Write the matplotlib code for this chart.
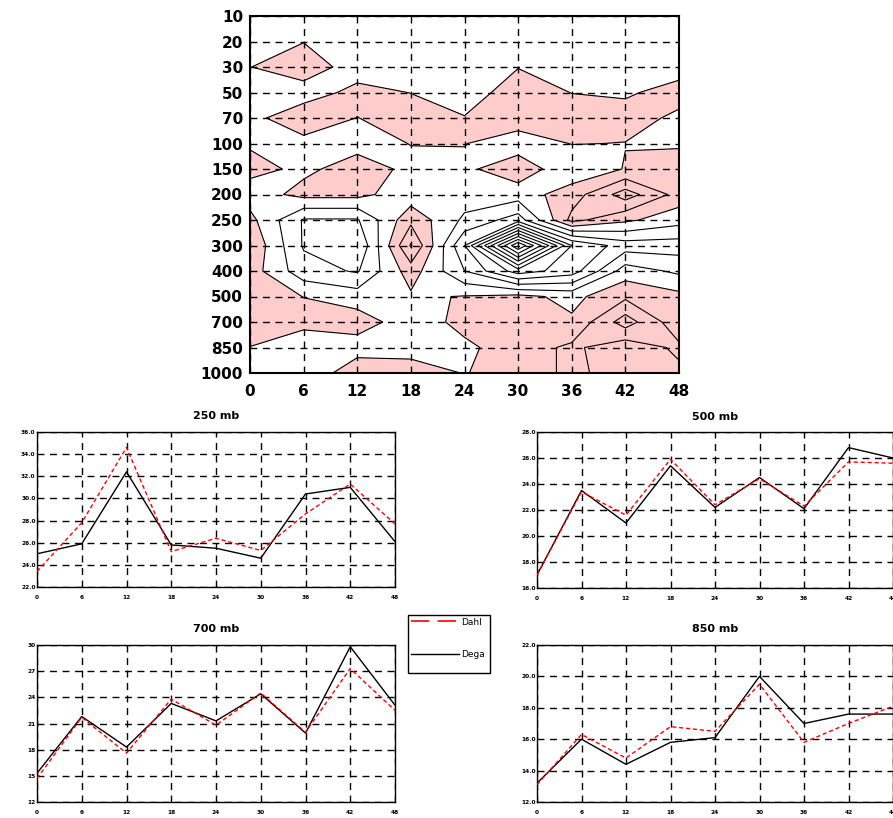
import numpy as np
import matplotlib
matplotlib.use("Agg")
import matplotlib.pyplot as plt
from matplotlib.lines import Line2D
from matplotlib.patches import Rectangle

# ---------------- data ----------------
hours = [0, 6, 12, 18, 24, 30, 36, 42, 48]
pressure_levels = ['10', '20', '30', '50', '70', '100', '150', '200', '250',
                   '300', '400', '500', '700', '850', '1000']

# difference field (rows = pressure levels top->bottom, cols = hours)
row_10 = [-0.5, -0.5, -0.5, -0.5, -0.5, -0.5, -0.5, -0.5, -0.5]
row_20 = [-0.5, -0.03, -0.5, -0.5, -0.5, -0.5, -0.5, -0.5, -0.5]
row_30 = [-0.02, 0.6, -0.5, -0.6, -0.6, -0.03, -0.6, -0.6, -0.3]
row_50 = [-0.5, -0.5, 0.3, -0.02, -0.5, 0.5, -0.02, -0.1, 0.28]
row_70 = [-0.3, 0.68, -0.02, 0.5, 0.05, 0.5, 0.5, 0.3, -0.15]
row_100 = [-0.1, -0.32, -0.3, 0.02, 0.03, -0.5, 0.03, -0.02, -0.1]
row_150 = [0.3, -0.2, 0.41, -0.2, -0.2, 0.6, -0.7, 0.05, 0.4]
row_200 = [-0.5, 0.3, 0.3, -0.6, -0.5, -0.5, 0.5, 2.5, 0.6]
row_250 = [0.3, -2.1, -2.1, 0.73, -1.2, -2.5, 1.3, 0.2, -0.6]
row_300 = [0.86, -2.1, -3.0, 2.1, -3.0, -11.0, -4.0, -2.5, -2.5]
row_400 = [0.5, -1.6, -2.1, 0.5, -2.0, -4.5, -3.5, -0.5, -1.2]
row_500 = [0.6, -0.02, -0.5, -0.15, 0.05, 0.3, -0.3, 0.8, 0.3]
row_700 = [0.5, 0.4, 0.5, -0.55, 0.3, 0.5, 0.16, 2.5, 0.3]
row_850 = [-0.02, -0.9, -0.5, -0.5, -0.2, 0.5, 1.2, 0.36, 1.2]
row_1000 = [-0.5, -0.9, 0.75, 0.6, -0.05, 0.5, 1.2, 0.6, 0.8]

dahl_250 = [23.4, 27.8, 34.6, 25.2, 26.4, 25.3, 28.6, 31.3, 27.7]
dega_250 = [25.0, 25.9, 32.4, 25.8, 25.5, 24.6, 30.4, 31.0, 26.1]
dahl_500 = [17.0, 23.4, 21.6, 25.9, 22.4, 24.4, 22.3, 25.7, 25.6]
dega_500 = [17.0, 23.5, 21.0, 25.4, 22.2, 24.5, 22.1, 26.8, 26.0]
dahl_700 = [14.7, 21.7, 17.6, 23.8, 20.8, 24.5, 20.0, 27.3, 22.5]
dega_700 = [15.3, 21.8, 18.3, 23.3, 21.3, 24.4, 19.9, 29.8, 23.1]
dahl_850 = [13.1, 16.3, 14.8, 16.8, 16.5, 19.5, 15.8, 17.0, 18.1]
dega_850 = [13.2, 16.0, 14.4, 15.8, 16.1, 20.0, 17.0, 17.6, 17.6]

yt_250 = [22.0, 24.0, 26.0, 28.0, 30.0, 32.0, 34.0, 36.0]
yt_500 = [16.0, 18.0, 20.0, 22.0, 24.0, 26.0, 28.0]
yt_700 = [12, 15, 18, 21, 24, 27, 30]
yt_850 = [12.0, 14.0, 16.0, 18.0, 20.0, 22.0]

# ---------------- figure ----------------
W, H = 893, 818
fig = plt.figure(figsize=(W / 100, H / 100), dpi=100)


def rect(l, t, r, b):
    return [l / W, 1 - b / H, (r - l) / W, (b - t) / H]


grid_dash = (0, (5, 4))

# --- contour panel ---
Z = np.array([row_10, row_20, row_30, row_50, row_70, row_100, row_150, row_200,
              row_250, row_300, row_400, row_500, row_700, row_850, row_1000])
yidx = np.arange(len(pressure_levels))
ax = fig.add_axes(rect(250, 16, 679, 373))
ax.contourf(hours, yidx, Z, levels=[0, 100], colors=['#ffcccc'], zorder=1)
ax.contour(hours, yidx, Z, levels=np.arange(-11, 3), colors='black',
           linewidths=0.8, linestyles='solid', zorder=2)
ax.set_xlim(0, 48)
ax.set_ylim(len(pressure_levels) - 1, 0)
ax.set_xticks(hours)
ax.set_xticklabels([str(h) for h in hours], fontsize=11, fontweight='bold')
ax.set_yticks(yidx)
ax.set_yticklabels(pressure_levels, fontsize=11, fontweight='bold')
ax.tick_params(length=0, pad=5)
ax.tick_params(axis='x', pad=8)
ax.set_axisbelow(False)
ax.grid(True, color='black', linestyle=grid_dash, linewidth=1.0)
for s in ax.spines.values():
    s.set_linewidth(1.5)
    s.set_zorder(5)


def panel(box, title, dahl, dega, yticks, ylabels):
    a = fig.add_axes(rect(*box))
    a.plot(hours, dega, color='black', linewidth=1.0, zorder=3)
    a.plot(hours, dahl, color='red', linewidth=1.0, dashes=(3, 2), zorder=4)
    a.set_xlim(0, 48)
    a.set_ylim(yticks[0], yticks[-1])
    a.set_xticks(hours)
    a.set_xticklabels([str(h) for h in hours], fontsize=4.2, fontweight='bold')
    a.set_yticks(yticks)
    a.set_yticklabels(ylabels, fontsize=4.2, fontweight='bold')
    a.tick_params(length=0)
    a.tick_params(axis='x', pad=6)
    a.tick_params(axis='y', pad=1)
    a.grid(True, color='black', linestyle=grid_dash, linewidth=1.0)
    a.set_title(title, fontsize=8, fontweight='bold', pad=9)
    for s in a.spines.values():
        s.set_linewidth(1.0)
    return a


panel((37, 432, 395, 587), '250 mb', dahl_250, dega_250, yt_250,
      ['%.1f' % v for v in yt_250])
panel((537, 432, 893, 588), '500 mb', dahl_500, dega_500, yt_500,
      ['%.1f' % v for v in yt_500])
panel((37, 645, 395, 802), '700 mb', dahl_700, dega_700, yt_700,
      [str(v) for v in yt_700])
panel((537, 645, 893, 802), '850 mb', dahl_850, dega_850, yt_850,
      ['%.1f' % v for v in yt_850])

# legend box
fig.patches.append(Rectangle((408 / W, 1 - 673 / H), 82 / W, 58 / H,
                             transform=fig.transFigure, fill=False,
                             edgecolor='black', linewidth=1.0))
handles = [Line2D([], [], color='red', linewidth=1.2, dashes=(11, 5)),
           Line2D([], [], color='black', linewidth=1.0)]
leg = fig.legend(handles, ['Dahl', 'Dega'], loc='upper left',
                 bbox_to_anchor=(407 / W, 1 - 614 / H), frameon=False,
                 fontsize=6.5, handlelength=5.4, labelspacing=2.6,
                 borderpad=0.4, handletextpad=0.2, borderaxespad=0)

fig.savefig('out.png', dpi=100)
